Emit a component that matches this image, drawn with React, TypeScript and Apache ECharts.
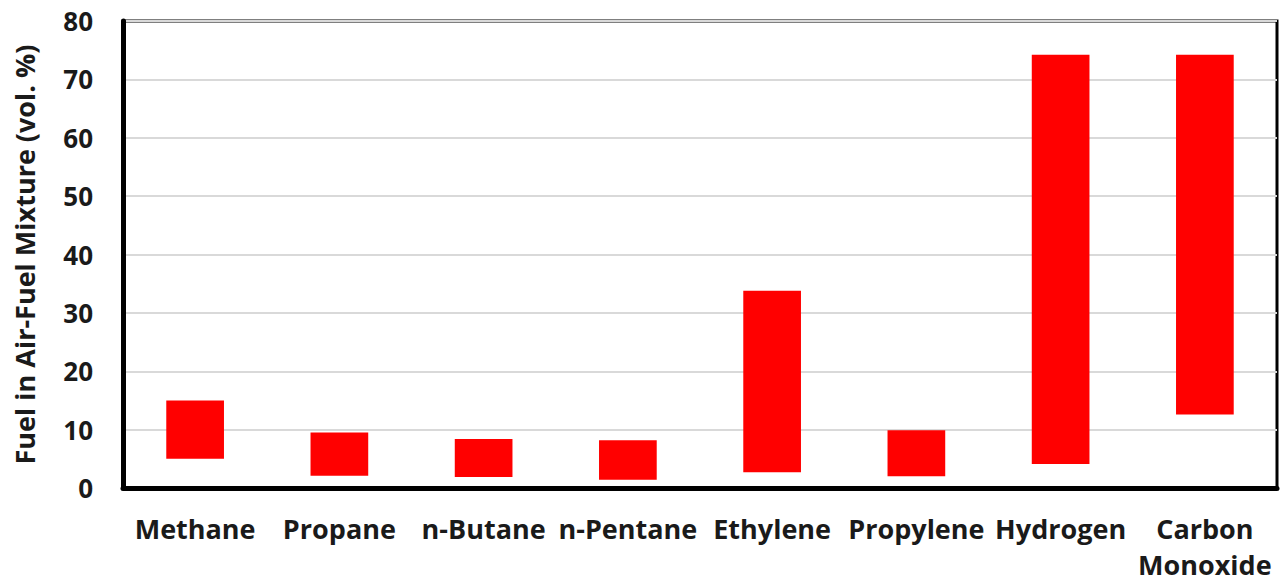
import React, { useEffect, useRef } from "react";
import * as echarts from "echarts";

const categories = ["Methane", "Propane", "n-Butane", "n-Pentane", "Ethylene", "Propylene", "Hydrogen", "Carbon\nMonoxide"];
const lowerLimits = [5.0, 2.1, 1.9, 1.4, 2.7, 2.0, 4.1, 12.6];
const upperLimits = [15.0, 9.5, 8.4, 8.2, 33.8, 9.9, 74.2, 74.2];
const yTicks = { min: 0, max: 80, interval: 10 };

export default function App() {
  const ref = useRef<HTMLDivElement>(null);
  useEffect(() => {
    if (!ref.current) return;
    const chart = echarts.init(ref.current, null, { renderer: "svg" });
    const font = "'Open Sans', sans-serif";
    chart.setOption({
      animation: false,
      backgroundColor: "#ffffff",
      grid: {
        left: 123, right: 10, top: 21, bottom: 94,
        show: true, borderColor: "#000", borderWidth: 3,
        containLabel: false,
        outerBoundsMode: "none",
      },
      xAxis: {
        type: "category",
        data: categories,
        axisLine: { lineStyle: { color: "#000", width: 5 } },
        axisTick: { show: false },
        axisLabel: {
          color: "#1a1a1a", fontSize: 27, fontWeight: "bold", fontFamily: font,
          margin: 22, lineHeight: 36, interval: 0,
        },
      },
      yAxis: {
        type: "value",
        min: yTicks.min, max: yTicks.max, interval: yTicks.interval,
        name: "Fuel in Air-Fuel Mixture (vol. %)",
        nameLocation: "middle",
        nameGap: 85,
        nameTextStyle: { color: "#1a1a1a", fontSize: 27, fontWeight: "bold", fontFamily: font },
        axisLine: { show: true, lineStyle: { color: "#000", width: 5 } },
        axisTick: { show: false },
        axisLabel: { color: "#1a1a1a", fontSize: 26, fontWeight: "bold", fontFamily: font, margin: 30 },
        splitLine: { lineStyle: { color: "#d9d9d9", width: 2 } },
      },
      series: [
        {
          type: "bar", stack: "range", barWidth: "40%",
          data: lowerLimits,
          itemStyle: { color: "transparent" },
          silent: true,
        },
        {
          type: "bar", stack: "range", barWidth: "40%",
          data: upperLimits.map((u, i) => +(u - lowerLimits[i]).toFixed(2)),
          itemStyle: { color: "#ff0000" },
        },
      ],
    });
    return () => chart.dispose();
  }, []);
  return <div ref={ref} style={{ position: "fixed", left: 0, top: 0, width: 1287, height: 582 }} />;
}
